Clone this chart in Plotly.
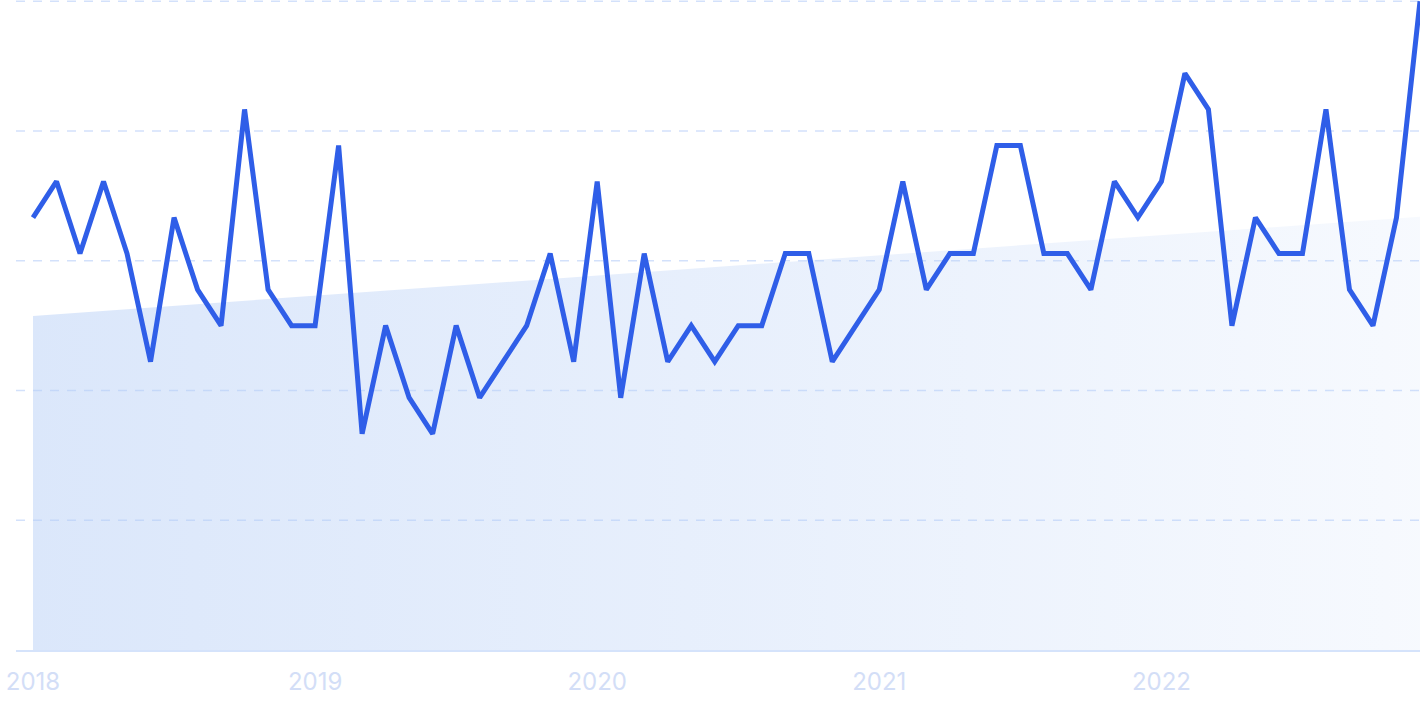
import plotly.graph_objects as go

# Monthly values (raw scale, max = 18), Jan 2018 .. Dec 2022
months = list(range(60))
raw_values = [12, 13, 11, 13, 11, 8, 12, 10, 9, 15, 10, 9,
              9, 14, 6, 9, 7, 6, 9, 7, 8, 9, 11, 8,
              13, 7, 11, 8, 9, 8, 9, 9, 11, 11, 8, 9,
              10, 13, 10, 11, 11, 14, 14, 11, 11, 10, 13, 12,
              13, 16, 15, 9, 12, 11, 11, 15, 10, 9, 12, 18]
raw_max = 18
values = [v / raw_max * 100 for v in raw_values]

# Trend band endpoints (first and last month)
trend_x = [0, 59]
trend_y = [51.5, 66.8]

tick_vals = [0, 12, 24, 36, 48]
tick_text = ["2018", "2019", "2020", "2021", "2022"]
grid_vals = [20, 40, 60, 80, 100]

fig = go.Figure()

fig.add_trace(go.Scatter(
    x=trend_x, y=trend_y, mode="lines", line=dict(width=0),
    fill="tozeroy",
    fillgradient=dict(type="horizontal",
                      colorscale=[[0, "rgba(180,205,246,0.48)"],
                                  [0.5, "rgba(180,205,246,0.31)"],
                                  [1, "rgba(180,205,246,0.11)"]]),
    hoverinfo="skip", showlegend=False,
))

fig.add_trace(go.Scatter(
    x=months, y=values, mode="lines",
    line=dict(color="#2f5ee8", width=5, shape="linear"),
    showlegend=False,
))

for g in grid_vals:
    fig.add_shape(type="line", xref="paper", x0=0, x1=1, yref="y", y0=g, y1=g,
                  line=dict(color="#d3e1fb", width=1.5, dash="9px,8px"), layer="below")

fig.update_layout(
    width=1425, height=712,
    margin=dict(l=16, r=5, t=0, b=62),
    paper_bgcolor="white", plot_bgcolor="white",
    xaxis=dict(
        range=[-0.723, 59.0],
        tickvals=tick_vals, ticktext=tick_text,
        tickfont=dict(family="Inter, Roboto, sans-serif", size=24, color="#d3def7"),
        showgrid=False, zeroline=False,
        showline=True, linecolor="#d5e3fb", linewidth=1.5,
        ticks="", ticklabelstandoff=9,
    ),
    yaxis=dict(
        range=[0, 100.2],
        showticklabels=False,
        showgrid=False, zeroline=False, showline=False,
    ),
)

fig.write_html("out.html", post_script="document.body.style.margin='0';",
               config={"displayModeBar": False})
